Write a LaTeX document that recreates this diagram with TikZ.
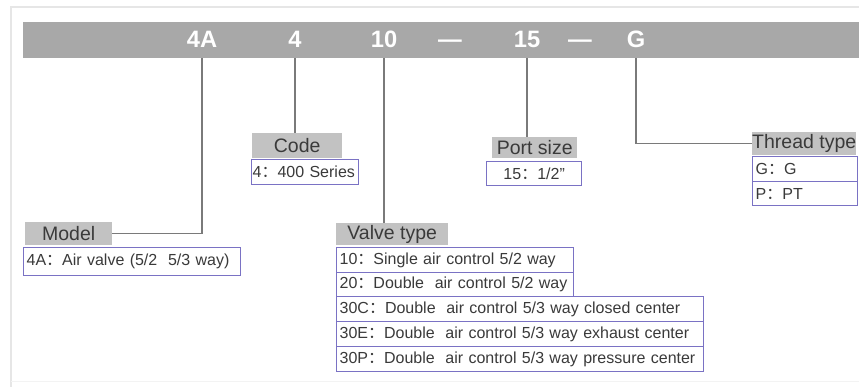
\documentclass[tikz,border=0pt]{standalone}
\usepackage{fontspec}
\setmainfont{Liberation Sans}
\newfontfamily\cjk{Noto Sans CJK SC}
\newcommand{\fwc}{{\cjk ：}}
\definecolor{barcol}{HTML}{A8A8A8}
\definecolor{labcol}{HTML}{C2C2C2}
\definecolor{valcol}{HTML}{7A72C4}
\definecolor{conncol}{HTML}{7A7A7A}
\definecolor{txtcol}{HTML}{3A3A3A}
\definecolor{framecol}{HTML}{E6E6E6}
\tikzset{
  barnum/.style={text=white, font=\fontsize{23.7}{24}\selectfont\bfseries, anchor=base, inner sep=0pt},
  lab/.style={fill=labcol, text=txtcol, font=\fontsize{19.5}{20}\selectfont, inner sep=0pt, anchor=north west},
  val/.style={draw=valcol, line width=1.3pt, text=txtcol, font=\fontsize{16}{17}\selectfont, inner ysep=0pt, inner xsep=3pt, anchor=north west, align=left},
  conn/.style={draw=conncol, line width=1.5pt}
}
\begin{document}
\begin{tikzpicture}[x=1pt,y=-1pt]
\useasboundingbox (0,0) rectangle (859,386);
\fill[white] (0,0) rectangle (859,386);
% outer frame
\draw[framecol, line width=2pt] (11,395) -- (11,7) -- (870,7);
\draw[framecol!50, line width=1pt] (11,381) -- (870,381);
% top bar
\node[fill=barcol, minimum width=850pt, minimum height=36pt, inner sep=0pt, anchor=north west] (bar) at (23,22) {};
\node[barnum] (b4A) at (202,47) {4A};
\node[barnum] (b4) at (295,47) {4};
\node[barnum] (b10) at (384,47) {10};
\node[barnum] (d1) at (450,47) {—};
\node[barnum] (b15) at (527,47) {15};
\node[barnum] (d2) at (580,47) {—};
\node[barnum] (bG) at (636,47) {G};
% Model
\node[lab, minimum width=87pt, minimum height=23pt] (modelL) at (25,222) {Model};
\node[val, minimum height=28pt, text width=211pt] (modelV) at (23,247) {\mbox{4A\fwc Air valve (5/2\ \ 5/3 way)}};
% Code
\node[lab, minimum width=90pt, minimum height=25pt] (codeL) at (252,133) {Code};
\node[val, minimum height=25pt, text width=105pt, inner xsep=1pt] (codeV) at (251,159) {\mbox{4\fwc 400 Series}};
% Valve type
\node[lab, minimum width=112pt, minimum height=22pt] (valveL) at (336,223) {Valve type};
\node[val, minimum height=25pt, text width=231pt] (v1) at (336,247) {\mbox{10\fwc Single air control 5/2 way}};
\node[val, minimum height=24pt, text width=231pt] (v2) at (336,272) {\mbox{20\fwc Double\ \ air control 5/2 way}};
\node[val, minimum height=25pt, text width=361pt] (v3) at (336,296) {\mbox{30C\fwc Double\ \ air control 5/3 way closed center}};
\node[val, minimum height=25pt, text width=361pt] (v4) at (336,321) {\mbox{30E\fwc Double\ \ air control 5/3 way exhaust center}};
\node[val, minimum height=25pt, text width=361pt] (v5) at (336,346) {\mbox{30P\fwc Double\ \ air control 5/3 way pressure center}};
% Port size
\node[lab, minimum width=85pt, minimum height=21pt] (portL) at (492,137) {Port size};
\node[val, minimum height=24pt, minimum width=95pt, align=center] (portV) at (486,161) {15\fwc 1/2"};
% Thread type
\node[lab, minimum width=103pt, minimum height=23pt] (threadL) at (752,132) {Thread type};
\node[val, minimum height=25pt, text width=99pt] (t1) at (752,156) {\mbox{G\fwc G}};
\node[val, minimum height=24pt, text width=99pt] (t2) at (752,181) {\mbox{P\fwc PT}};
% connectors
\draw[conn] (b4A |- bar.south) |- (modelL.east);
\draw[conn] (b4 |- bar.south) -- (b4 |- codeL.north);
\draw[conn] (b10 |- bar.south) -- (b10 |- valveL.north);
\draw[conn] (b15 |- bar.south) -- (b15 |- portL.north);
\draw[conn] (bG |- bar.south) |- (threadL.west);
\end{tikzpicture}
\end{document}
